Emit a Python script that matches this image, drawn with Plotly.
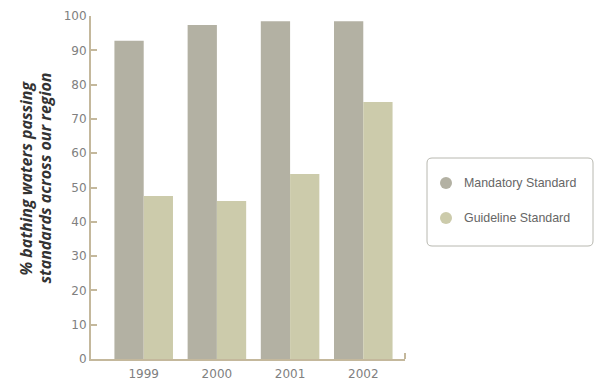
import plotly.graph_objects as go

# Bathing water compliance by year
years = ["1999", "2000", "2001", "2002"]
series_names = ["Mandatory Standard", "Guideline Standard"]
mandatory = [92.8, 97.4, 98.5, 98.5]
guideline = [47.5, 46.1, 53.9, 74.9]
y_ticks = [0, 10, 20, 30, 40, 50, 60, 70, 80, 90, 100]
title_lines = ["% bathing waters passing", "standards across our region"]

colors = ["#b3b1a3", "#cccbab"]
axis_col = "#c4b89c"
W, H = 600, 383
ML, MR, MT, MB = 91, 195, 16, 24
PW, PH = W - ML - MR, H - MT - MB


def px_x(px):
    return (px - ML) / PW


def px_y(py):
    return (H - MB - py) / PH


fig = go.Figure()
for name, vals, col in zip(series_names, [mandatory, guideline], colors):
    fig.add_trace(go.Bar(x=years, y=vals, name=name, marker_color=col,
                         marker_line_width=0, showlegend=False))

# rounded legend frame
x0, x1, y0, y1, r = 427, 593, 158, 246, 5
path = (f"M {px_x(x0 + r)} {px_y(y0)} L {px_x(x1 - r)} {px_y(y0)} "
        f"Q {px_x(x1)} {px_y(y0)} {px_x(x1)} {px_y(y0 + r)} "
        f"L {px_x(x1)} {px_y(y1 - r)} Q {px_x(x1)} {px_y(y1)} {px_x(x1 - r)} {px_y(y1)} "
        f"L {px_x(x0 + r)} {px_y(y1)} Q {px_x(x0)} {px_y(y1)} {px_x(x0)} {px_y(y1 - r)} "
        f"L {px_x(x0)} {px_y(y0 + r)} Q {px_x(x0)} {px_y(y0)} {px_x(x0 + r)} {px_y(y0)} Z")
shapes = [dict(type="path", path=path, xref="paper", yref="paper",
               line=dict(color="#b8b8b0", width=1), fillcolor="rgba(0,0,0,0)")]
annotations = []
for i, (name, col) in enumerate(zip(series_names, colors)):
    cy = 183 + 35 * i
    shapes.append(dict(type="circle", xref="paper", yref="paper",
                       xsizemode="pixel", ysizemode="pixel",
                       xanchor=px_x(446), yanchor=px_y(cy),
                       x0=-6, x1=6, y0=-6, y1=6,
                       fillcolor=col, line=dict(width=0)))
    annotations.append(dict(text=name, xref="paper", yref="paper",
                            x=px_x(462), y=px_y(cy), xanchor="left", yanchor="middle",
                            showarrow=False,
                            font=dict(family="Liberation Sans", size=12.4, color="#666666")))

# small end tick on the category axis
shapes.append(dict(type="line", xref="paper", yref="paper", x0=1, x1=1,
                   y0=0, y1=6 / PH, line=dict(color=axis_col, width=2)))

# two-line rotated axis title
for line, cx in zip(title_lines, [25, 44]):
    annotations.append(dict(text=line, xref="paper", yref="paper",
                            x=px_x(cx), y=px_y(178.5),
                            xanchor="center", yanchor="middle", textangle=-90,
                            showarrow=False,
                            font=dict(family="Open Sans", size=16, color="#333333",
                                      style="italic", weight="bold")))

tick_font = dict(family="DejaVu Sans", size=12, color="#808080")
fig.update_layout(
    width=W, height=H,
    margin=dict(l=ML, r=MR, t=MT, b=MB, autoexpand=False),
    paper_bgcolor="white", plot_bgcolor="white",
    barmode="group", bargap=0.2, bargroupgap=0,
    shapes=shapes, annotations=annotations,
    xaxis=dict(type="category", range=[-0.72, 3.57], showline=True,
               linecolor=axis_col, linewidth=2, ticks="", showgrid=False,
               zeroline=False, tickfont=tick_font, fixedrange=True,
               automargin=False, ticklabelstandoff=3),
    yaxis=dict(range=[0, 100], tickvals=y_ticks, showline=True,
               linecolor=axis_col, linewidth=2, ticks="inside", ticklen=6,
               tickwidth=2, tickcolor=axis_col, showgrid=False, zeroline=False,
               tickfont=tick_font, fixedrange=True, automargin=False),
)

fig.write_html("out.html")
